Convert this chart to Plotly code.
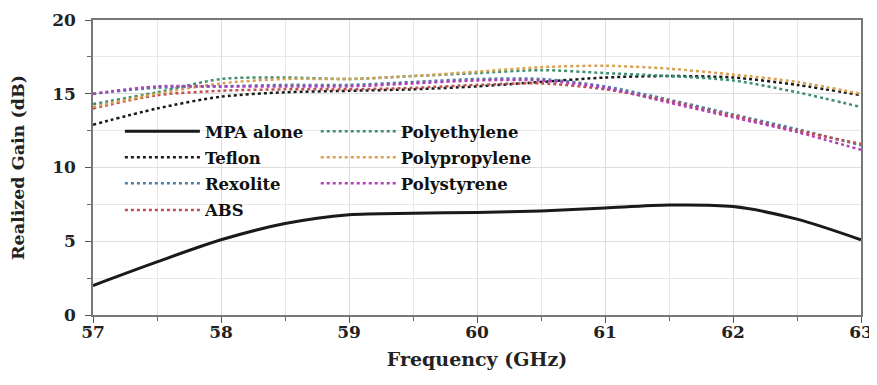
import plotly.graph_objects as go

freq = [57, 57.5, 58, 58.5, 59, 59.5, 60, 60.5, 61, 61.5, 62, 62.5, 63]

mpa_alone = [2.0, 3.6, 5.1, 6.2, 6.8, 6.9, 6.95, 7.05, 7.25, 7.45, 7.35, 6.5, 5.1]
teflon = [12.9, 14.0, 14.8, 15.1, 15.2, 15.3, 15.5, 15.8, 16.1, 16.2, 16.1, 15.6, 14.9]
rexolite = [15.0, 15.4, 15.5, 15.6, 15.6, 15.8, 16.0, 16.0, 15.5, 14.6, 13.6, 12.6, 11.5]
abs_ = [14.0, 14.9, 15.2, 15.3, 15.3, 15.4, 15.6, 15.7, 15.3, 14.5, 13.5, 12.5, 11.6]
polyethylene = [14.3, 15.1, 16.0, 16.1, 16.0, 16.2, 16.4, 16.6, 16.4, 16.2, 15.9, 15.1, 14.1]
polypropylene = [14.1, 15.0, 15.7, 16.0, 16.0, 16.2, 16.5, 16.8, 16.9, 16.7, 16.3, 15.8, 15.0]
polystyrene = [15.0, 15.5, 15.5, 15.5, 15.5, 15.7, 15.9, 15.9, 15.4, 14.4, 13.4, 12.4, 11.2]

series = [
    ("MPA alone", mpa_alone, "#1a1a1a", "solid", 3),
    ("Teflon", teflon, "#1a1a1a", "dot", 2.5),
    ("Rexolite", rexolite, "#4f7fa8", "dot", 2.5),
    ("ABS", abs_, "#c0504d", "dot", 2.5),
    ("Polyethylene", polyethylene, "#3f8f6f", "dot", 2.5),
    ("Polypropylene", polypropylene, "#d9a050", "dot", 2.5),
    ("Polystyrene", polystyrene, "#b040b8", "dot", 2.5),
]

# legend slots: (x, y) in paper coords, one legend per entry so rows line up
slots = [
    (0.035, 0.622), (0.035, 0.534), (0.035, 0.446), (0.035, 0.355),
    (0.29, 0.622), (0.29, 0.534), (0.29, 0.446),
]

SERIF = "DejaVu Serif"

fig = go.Figure()
layout_legends = {}
for i, (name, vals, color, dash, width) in enumerate(series):
    key = "legend" if i == 0 else f"legend{i + 1}"
    fig.add_trace(go.Scatter(
        x=freq, y=vals, name=name, mode="lines",
        line=dict(color=color, dash=dash, width=width, shape="spline", smoothing=0.8),
        legend=key, showlegend=True,
    ))
    lx, ly = slots[i]
    layout_legends[key] = dict(
        x=lx, y=ly, xanchor="left", yanchor="middle",
        bgcolor="rgba(0,0,0,0)", itemwidth=75,
        font=dict(family=SERIF, size=16.5, color="#111111", weight="bold"),
    )

# page body has an 8px margin, so the figure is sized to fit the window after it
fig.update_layout(
    width=869, height=377,
    margin=dict(l=85, r=16, t=12, b=70),
    plot_bgcolor="white", paper_bgcolor="white",
    font=dict(family=SERIF, color="#222222"), showlegend=True,
    **layout_legends,
)

fig.update_xaxes(
    range=[57, 63], dtick=1, tick0=57, automargin=False,
    showgrid=True, gridcolor="#dddddd", gridwidth=1,
    minor=dict(dtick=0.5, showgrid=True, gridcolor="#e8e8e8", ticks="outside", ticklen=4, tickcolor="#666666"),
    ticks="outside", ticklen=6, tickcolor="#555555", ticklabelstandoff=-5,
    showline=True, linecolor="#777777", linewidth=1.5, mirror=True,
    zeroline=False,
    tickfont=dict(family=SERIF, size=17, color="#222222", weight="bold"),
    title=dict(text="Frequency (GHz)", standoff=12,
               font=dict(family=SERIF, size=19, color="#222222", weight="bold")),
)
fig.update_yaxes(
    range=[0, 20], dtick=5, automargin=False,
    showgrid=True, gridcolor="#dddddd", gridwidth=1,
    minor=dict(dtick=2.5, showgrid=True, gridcolor="#e8e8e8", ticks="outside", ticklen=4, tickcolor="#666666"),
    ticks="outside", ticklen=6, tickcolor="#555555", ticklabelstandoff=6,
    showline=True, linecolor="#777777", linewidth=1.5, mirror=True,
    zeroline=False,
    tickfont=dict(family=SERIF, size=17, color="#222222", weight="bold"),
    title=dict(text="Realized Gain (dB)", standoff=26,
               font=dict(family=SERIF, size=17.5, color="#222222", weight="bold")),
)

fig.write_html("out.html")
